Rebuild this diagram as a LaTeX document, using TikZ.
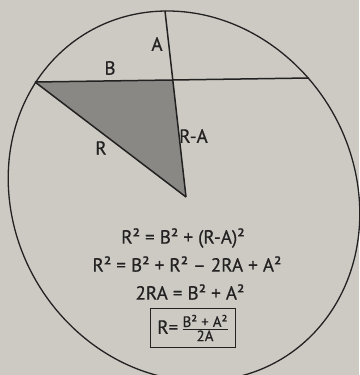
\documentclass[tikz,border=0pt]{standalone}
\usepackage{fontspec}
\usepackage{amsmath}
\setmainfont{PT Sans}[FakeBold=0.5]
\usetikzlibrary{positioning}
\definecolor{paper}{RGB}{204,202,195}
\definecolor{trifill}{RGB}{138,136,132}
\definecolor{ink}{RGB}{35,33,33}
\newcommand{\fracsize}{\fontsize{15}{17}\selectfont}

\begin{document}
\begin{tikzpicture}[x=1pt,y=-1pt,
    lbl/.style={font=\fontsize{19}{22}\selectfont,text=ink,inner sep=1pt},
    eqn/.style={font=\fontsize{19}{22}\selectfont,text=ink,inner sep=1pt},
    segline/.style={ink,line width=1.5pt}]
                    \fill[paper] (0,0) rectangle (359,375);
                    \useasboundingbox (0,0) rectangle (359,375);
                    % points of the chord and the centre
                    \coordinate (L) at (35,82);
                    \coordinate (Rt) at (309,78);
                    \coordinate (T) at (165,11);
                    \coordinate (M) at (173,80);
                    \coordinate (C) at (186,197);
                    \fill[trifill] (L)--(M)--(C)--cycle;
                    % the circle, slanted as in the photo
                    \draw[ink,line width=1.3pt,shift={(184,196)},xslant=-0.09] (0,0) ellipse [x radius=175pt, y radius=185pt];
                    \draw[segline] (L)--(Rt);
                    \draw[segline] (T)--(C);
                    \draw[segline] (L)--(C);
                    \node[lbl] (la) at (157,44) {A};
                    \node[lbl] (lb) at (110,68) {B};
                    \node[lbl] (lr) at (101,148) {R};
                    \node[lbl,anchor=west] (lra) at (178,136) {R-A};
                    % the working
                    \node[eqn] (e1) at (183,238) {R² = B² + (R-A)²};
                    \node[eqn] (e2) at (187,264) {R² = B² + R² – 2RA + A²};
                    \node[eqn] (e3) at (190,292) {2RA = B² + A²};
                    \node[eqn,draw=ink,line width=0.9pt,inner xsep=7pt,inner ysep=6pt] (e4) at (193,328)
                        {R=\,\(\frac{\text{\fracsize B² + A²}}{\text{\fracsize 2A}}\)};
\end{tikzpicture}
\end{document}
